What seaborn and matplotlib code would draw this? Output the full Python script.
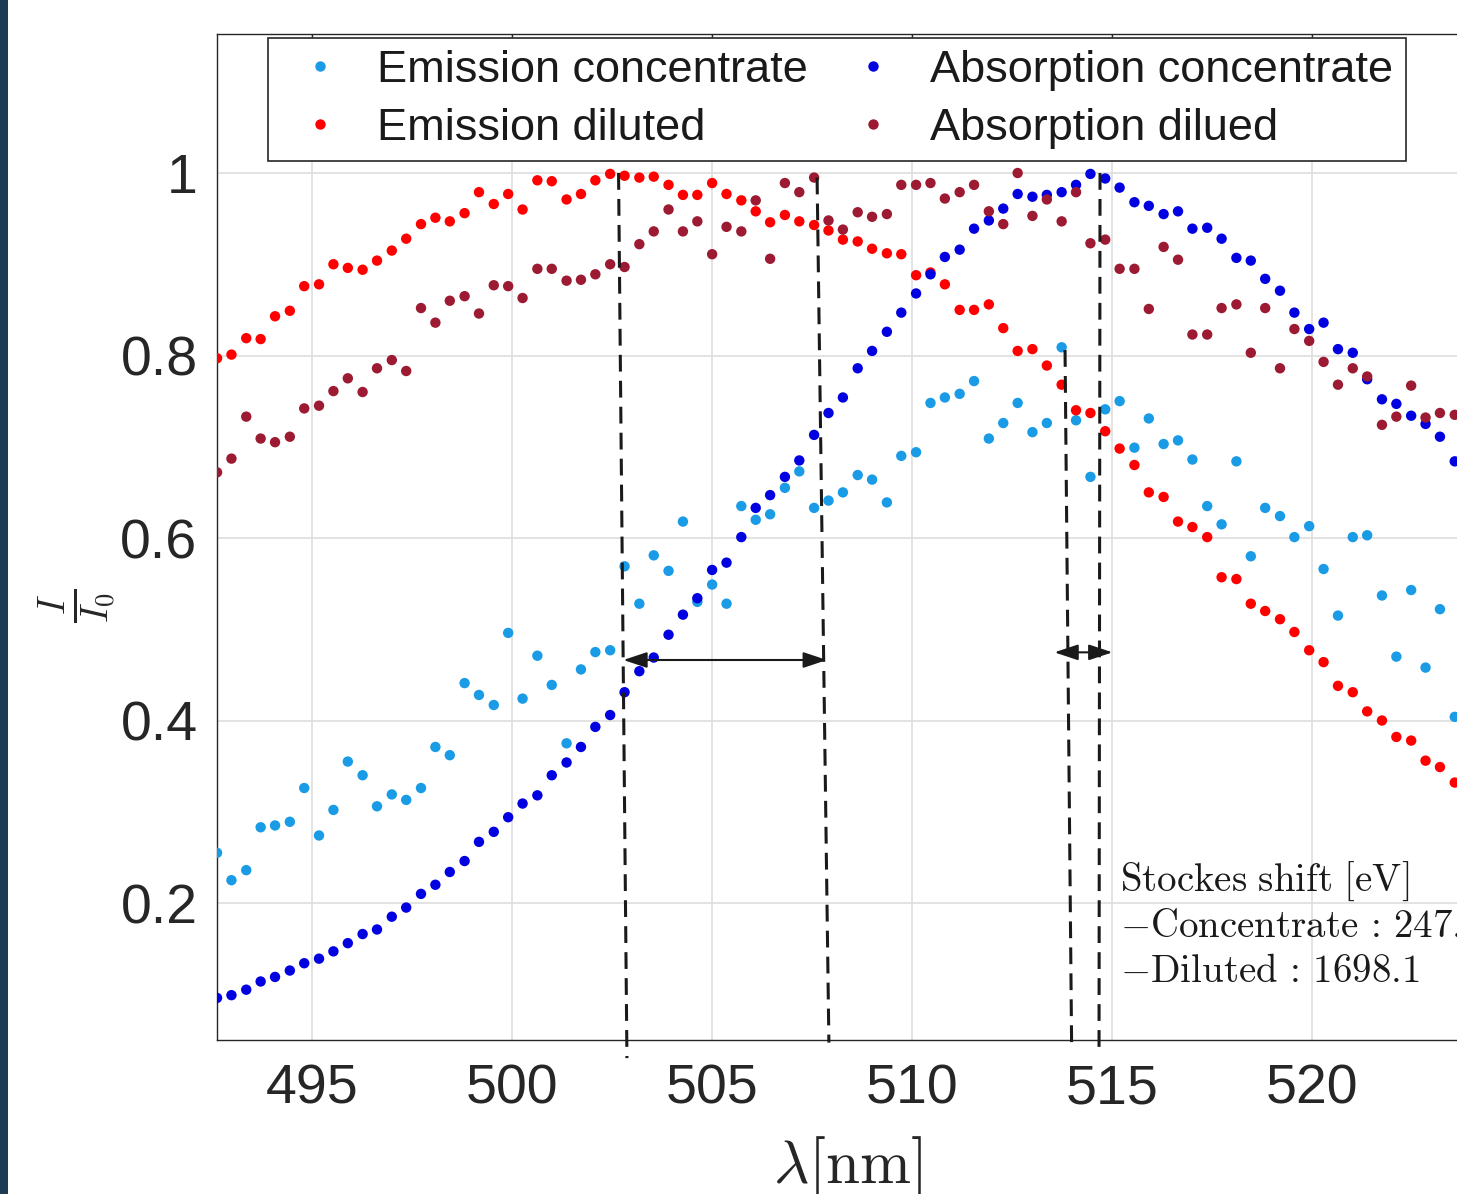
import numpy as np
import pandas as pd
import matplotlib.pyplot as plt
import seaborn as sns
from matplotlib.patches import Rectangle

# wavelength grid [nm]
wavelength = [492.62, 492.98, 493.35, 493.71, 494.07, 494.44, 494.80, 495.17, 495.53, 495.89,
              496.26, 496.62, 496.99, 497.35, 497.72, 498.08, 498.44, 498.81, 499.17, 499.54,
              499.90, 500.26, 500.63, 500.99, 501.36, 501.72, 502.08, 502.45, 502.81, 503.18,
              503.54, 503.91, 504.27, 504.63, 505.00, 505.36, 505.73, 506.09, 506.45, 506.82,
              507.18, 507.55, 507.91, 508.27, 508.64, 509.00, 509.37, 509.73, 510.10, 510.46,
              510.82, 511.19, 511.55, 511.92, 512.28, 512.64, 513.01, 513.37, 513.74, 514.10,
              514.46, 514.83, 515.19, 515.56, 515.92, 516.29, 516.65, 517.01, 517.38, 517.74,
              518.11, 518.47, 518.83, 519.20, 519.56, 519.93, 520.29, 520.65, 521.02, 521.38,
              521.75, 522.11, 522.48, 522.84, 523.20, 523.57]

emission_conc = [0.255, 0.225, 0.236, 0.283, 0.285, 0.289, 0.326, 0.274, 0.302, 0.355,
                 0.340, 0.306, 0.319, 0.313, 0.326, 0.371, 0.362, 0.441, 0.428, 0.417,
                 0.496, 0.424, 0.471, 0.439, 0.375, 0.456, 0.475, 0.477, 0.569, 0.528,
                 0.581, 0.564, 0.618, 0.530, 0.549, 0.528, 0.635, 0.620, 0.626, 0.655,
                 0.673, 0.633, 0.641, 0.650, 0.669, 0.664, 0.639, 0.690, 0.694, 0.748,
                 0.754, 0.758, 0.772, 0.709, 0.726, 0.748, 0.716, 0.726, 0.809, 0.729,
                 0.667, 0.741, 0.750, 0.699, 0.731, 0.703, 0.707, 0.686, 0.635, 0.615,
                 0.684, 0.580, 0.633, 0.624, 0.601, 0.613, 0.566, 0.515, 0.601, 0.603,
                 0.537, 0.470, 0.543, 0.458, 0.522, 0.404]

emission_dil = [0.797, 0.801, 0.819, 0.818, 0.843, 0.849, 0.876, 0.878, 0.900, 0.896,
                0.894, 0.904, 0.915, 0.928, 0.944, 0.951, 0.947, 0.956, 0.979, 0.966,
                0.977, 0.960, 0.992, 0.991, 0.971, 0.977, 0.992, 0.999, 0.997, 0.995,
                0.996, 0.987, 0.976, 0.976, 0.989, 0.977, 0.970, 0.958, 0.946, 0.954,
                0.947, 0.943, 0.937, 0.927, 0.925, 0.917, 0.912, 0.911, 0.888, 0.891,
                0.878, 0.850, 0.850, 0.856, 0.830, 0.805, 0.807, 0.789, 0.768, 0.740,
                0.737, 0.717, 0.698, 0.680, 0.650, 0.645, 0.618, 0.612, 0.601, 0.557,
                0.555, 0.528, 0.520, 0.511, 0.497, 0.477, 0.464, 0.438, 0.431, 0.410,
                0.400, 0.382, 0.378, 0.356, 0.349, 0.332]

absorption_conc = [0.096, 0.099, 0.105, 0.114, 0.119, 0.126, 0.134, 0.139, 0.147, 0.156,
                   0.166, 0.171, 0.185, 0.195, 0.210, 0.220, 0.234, 0.246, 0.267, 0.278,
                   0.294, 0.309, 0.318, 0.340, 0.354, 0.371, 0.393, 0.406, 0.431, 0.454,
                   0.469, 0.494, 0.516, 0.534, 0.565, 0.573, 0.601, 0.633, 0.647, 0.667,
                   0.685, 0.713, 0.737, 0.754, 0.786, 0.805, 0.826, 0.847, 0.868, 0.889,
                   0.908, 0.916, 0.939, 0.948, 0.961, 0.977, 0.974, 0.976, 0.979, 0.987,
                   0.999, 0.994, 0.984, 0.968, 0.964, 0.955, 0.958, 0.939, 0.940, 0.928,
                   0.907, 0.904, 0.884, 0.871, 0.847, 0.829, 0.836, 0.807, 0.803, 0.774,
                   0.752, 0.747, 0.734, 0.725, 0.711, 0.684]

absorption_dil = [0.672, 0.687, 0.733, 0.709, 0.705, 0.711, 0.742, 0.745, 0.761, 0.775,
                  0.760, 0.786, 0.795, 0.783, 0.852, 0.836, 0.860, 0.865, 0.846, 0.877,
                  0.876, 0.863, 0.895, 0.895, 0.882, 0.883, 0.889, 0.900, 0.897, 0.922,
                  0.936, 0.960, 0.936, 0.947, 0.911, 0.941, 0.936, 0.970, 0.906, 0.989,
                  0.979, 0.995, 0.948, 0.938, 0.957, 0.952, 0.955, 0.987, 0.987, 0.989,
                  0.972, 0.979, 0.987, 0.958, 0.944, 1.000, 0.953, 0.971, 0.947, 0.979,
                  0.923, 0.927, 0.895, 0.895, 0.851, 0.919, 0.905, 0.823, 0.823, 0.852,
                  0.856, 0.803, 0.852, 0.786, 0.829, 0.816, 0.793, 0.768, 0.786, 0.777,
                  0.724, 0.733, 0.767, 0.732, 0.737, 0.735]

series_names = ["Emission concentrate", "Emission diluted",
                "Absorption concentrate", "Absorption dilued"]
series_colors = ["#1a9be6", "#ff0000", "#0000e0", "#9c1a32"]

# peak markers: (x top, y top, x bottom, y bottom)
peak_lines = [(502.66, 1.0, 502.87, 0.03),
              (507.625, 0.995, 507.92, 0.047),
              (513.825, 0.806, 513.99, 0.042),
              (514.70, 1.0, 514.675, 0.042)]
shift_arrows = [(502.78, 507.87, 0.4663), (513.56, 515.01, 0.4747)]
shift_text = [r"$\mathrm{Stockes\ shift\ [eV]}$",
              r"$-\mathrm{Concentrate}\,:\,\mathrm{247.5}$",
              r"$-\mathrm{Diluted}\,:\,\mathrm{1698.1}$"]

sns.set_theme(style="white")
plt.rcParams["font.family"] = ["Liberation Sans", "DejaVu Sans"]
plt.rcParams["mathtext.fontset"] = "cm"

df = pd.concat([pd.DataFrame({"wl": wavelength, "I": vals, "series": name})
                for name, vals in zip(series_names, [emission_conc, emission_dil,
                                                     absorption_conc, absorption_dil])],
               ignore_index=True)

fig = plt.figure(figsize=(14.57, 11.94), dpi=100)
ax = fig.add_axes([0.1489, 0.1290, 0.8888, 0.8425])

sns.scatterplot(data=df, x="wl", y="I", hue="series", hue_order=series_names,
                palette=series_colors, s=56, linewidth=0, ax=ax, zorder=3)

ax.set_xlim(492.6175, 525.0)
ax.set_ylim(0.0499, 1.1523)
ax.set_xticks([495, 500, 505, 510, 515, 520])
ax.set_yticks([0.2, 0.4, 0.6, 0.8, 1.0])
ax.set_yticklabels(["0.2", "0.4", "0.6", "0.8", "1"])
ax.tick_params(direction="in", length=8.6, width=1, colors="#262626",
               labelsize=40, top=True, right=True)
ax.tick_params(axis="x", pad=17)
ax.tick_params(axis="y", pad=14)
for sp in ax.spines.values():
    sp.set_color("#262626")
    sp.set_linewidth(1)
ax.grid(True, color="#dedede", linewidth=1.2)
ax.set_axisbelow(True)

ax.set_xlabel(r"$\lambda[\mathrm{nm}]$", fontsize=44, color="#262626")
ax.xaxis.set_label_coords(0.487, -0.127)
ax.xaxis.label.set_va("center")
ax.set_ylabel(r"$\frac{I}{I_0}$", fontsize=39, color="#262626")
ax.yaxis.set_label_coords(-0.108, 0.432)
ax.yaxis.label.set_va("center")

for x0, y0, x1, y1 in peak_lines:
    ax.plot([x0, x1], [y0, y1], color="k", lw=2.2, ls=(0, (5.5, 3)),
            clip_on=False, zorder=5)

for xa, xb, y in shift_arrows:
    ax.annotate("", xy=(xb, y), xytext=(xa, y),
                arrowprops=dict(arrowstyle="<|-|>,head_length=1.2,head_width=0.4",
                                lw=1.5, color="k", shrinkA=0, shrinkB=0), zorder=6)

for txt, y in zip(shift_text, [0.2135, 0.163, 0.113]):
    ax.text(515.2, y, txt, fontsize=28, ha="left", va="baseline", color="k")

sns.move_legend(ax, "upper left", bbox_to_anchor=(0.0394, 0.8757, 0.8786, 0.1203),
                mode="expand", ncol=2, title=None, frameon=True, fontsize=32.5,
                handlelength=1.75, borderpad=0.27, handletextpad=0.4, borderaxespad=0,
                labelspacing=0.37, fancybox=False, edgecolor="#262626", framealpha=1)
ax.get_legend().get_frame().set_linewidth(1.2)
for t in ax.get_legend().get_texts():
    t.set_color("k")

fig.add_artist(Rectangle((0, 0), 8 / 1457, 1, transform=fig.transFigure,
                         facecolor="#1d3b53", edgecolor="none"))

fig.savefig("out.png", dpi=100)
